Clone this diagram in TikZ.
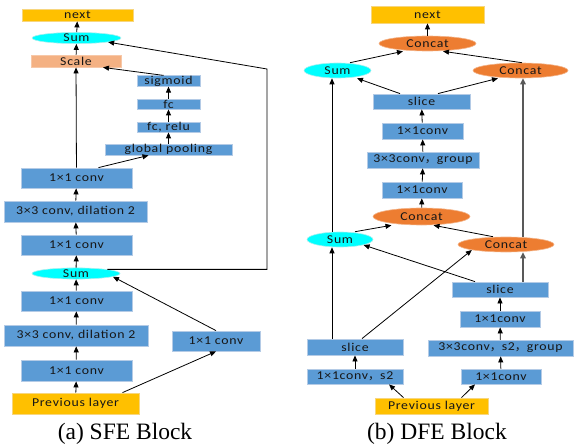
\documentclass[tikz,border=0pt]{standalone}
\usepackage{fontspec}
\setmainfont{Liberation Serif}
\newfontfamily\lab[FakeStretch=1.15,LetterSpace=6]{Carlito}
\newfontfamily\cjk{Noto Sans CJK SC}
\usetikzlibrary{shapes.geometric,arrows.meta}

\definecolor{boxblue}{HTML}{5B9BD5}
\definecolor{boxedge}{HTML}{B4CBE6}
\definecolor{nextfill}{HTML}{FFC000}
\definecolor{nextedge}{HTML}{F7D67E}
\definecolor{scalefill}{HTML}{F4B183}
\definecolor{sumfill}{HTML}{00FFFF}
\definecolor{sumedge}{HTML}{A8F0F0}
\definecolor{catfill}{HTML}{ED7D31}
\definecolor{catedge}{HTML}{F3B48A}
\definecolor{labtext}{HTML}{161616}
\newcommand{\fw}{{\cjk ，}}

\tikzset{
  lbl/.style={font=\lab\fontsize{12}{13}\selectfont, text=labtext, inner sep=0pt},
  bx/.style={lbl, rectangle, fill=boxblue, draw=boxedge, line width=0.8pt},
  nx/.style={lbl, rectangle, fill=nextfill, draw=nextedge, line width=0.8pt},
  sc/.style={lbl, rectangle, fill=scalefill, draw=scalefill!70!white, line width=0.8pt},
  sm/.style={lbl, ellipse, fill=sumfill, draw=sumedge, line width=0.6pt},
  ct/.style={lbl, ellipse, fill=catfill, draw=catedge, line width=0.6pt},
  ar/.style={line width=0.8pt, -{Triangle[length=6pt,width=5pt]}},
  arg/.style={line width=1.5pt, draw=black!65, -{Triangle[length=6pt,width=5.5pt]}},
  captext/.style={font=\fontsize{23.5}{26}\selectfont, anchor=base, inner sep=0pt}
}

\begin{document}
\begin{tikzpicture}[x=1pt, y=-1pt]
\useasboundingbox (0,0) rectangle (574,444);

% ---------------- SFE block ----------------
\node[nx, minimum width=111, minimum height=12] (nextA) at (77.5,15) {next};
\node[sm, minimum width=89, minimum height=10] (sumT) at (76.5,38) {Sum};
\node[sc, minimum width=90, minimum height=12] (scale) at (76,61) {Scale};
\node[bx, minimum width=63, minimum height=10] (sigm) at (168.5,81) {sigmoid};
\node[bx, minimum width=63, minimum height=10] (fc) at (168.5,104) {fc};
\node[bx, minimum width=63, minimum height=10] (fcr) at (168.5,127) {fc, relu};
\node[bx, minimum width=127, minimum height=11] (gpool) at (168.5,149.5) {global pooling};
\node[bx, minimum width=111, minimum height=20] (c1a) at (76.5,178) {1×1 conv};
\node[bx, minimum width=143, minimum height=21] (c3a) at (75.5,211.5) {3×3 conv, dilation 2};
\node[bx, minimum width=111, minimum height=20] (c1b) at (76.5,245) {1×1 conv};
\node[sm, minimum width=88, minimum height=9] (sumM) at (76,273.5) {Sum};
\node[bx, minimum width=111, minimum height=20] (c1c) at (76.5,301) {1×1 conv};
\node[bx, minimum width=144, minimum height=21] (c3b) at (76,335.5) {3×3 conv, dilation 2};
\node[bx, minimum width=111, minimum height=21] (c1d) at (76.5,370.5) {1×1 conv};
\node[nx, minimum width=127, minimum height=21] (prevA) at (75.5,403.5) {Previous layer};
\node[bx, minimum width=88, minimum height=20] (c1r) at (216,341) {1×1 conv};
\coordinate (fbT) at (267,69);

\draw[ar] (prevA) -- (c1d);
\draw[ar] (c1d) -- (c3b);
\draw[ar] (c3b) -- (c1c);
\draw[ar] (c1c) -- (sumM);
\draw[ar] (sumM) -- (c1b);
\draw[ar] (c1b) -- (c3a);
\draw[ar] (c3a) -- (c1a);
\draw[ar] (c1a) -- (scale);
\draw[ar] ([xshift=22pt]c1a.north) -- ([xshift=-20pt]gpool.south);
\draw[ar] (gpool) -- (fcr);
\draw[ar] (fcr) -- (fc);
\draw[ar] (fc) -- (sigm);
\draw[ar] ([xshift=-5pt]sigm.north) -- ([xshift=27pt]scale.south);
\draw[ar] (scale) -- (sumT);
\draw[ar] (sumT) -- (nextA);
\draw[ar] ([xshift=47pt]prevA.north) -- (c1r.south);
\draw[ar] (c1r.north) -- (sumM.-5);
\draw[ar] (sumM.north east) -- (sumM.north east -| fbT) -- (fbT) -- (sumT.south east);

\node[captext] (capA) at (125,439) {(a) SFE Block};

% ---------------- DFE block ----------------
\node[nx, minimum width=113, minimum height=17] (nextB) at (427.5,14.5) {next};
\node[ct, minimum width=97, minimum height=15] (catT) at (427.5,43.5) {Concat};
\node[sm, minimum width=67, minimum height=15] (sumU) at (337.5,70.5) {Sum};
\node[ct, minimum width=95, minimum height=15] (catR) at (520.5,70.5) {Concat};
\node[bx, minimum width=97, minimum height=15] (sliceT) at (421.5,101.5) {slice};
\node[bx, minimum width=81, minimum height=16] (c1e) at (422.5,131) {1×1conv};
\node[bx, minimum width=112, minimum height=16] (c3g) at (423,160) {3×3conv\fw group};
\node[bx, minimum width=80, minimum height=16] (c1f) at (422,190) {1×1conv};
\node[ct, minimum width=97, minimum height=17] (catM) at (421.5,216.5) {Concat};
\node[sm, minimum width=66, minimum height=15] (sumL) at (340,239.5) {Sum};
\node[ct, minimum width=96, minimum height=15] (catL) at (506,244.5) {Concat};
\node[bx, minimum width=96, minimum height=15] (sliceR) at (500,289.5) {slice};
\node[bx, minimum width=80, minimum height=16] (c1g) at (500,319) {1×1conv};
\node[bx, minimum width=145, minimum height=16] (c3s) at (500.5,348) {3×3conv\fw s2\fw group};
\node[bx, minimum width=80, minimum height=15] (c1h) at (501,376.5) {1×1conv};
\node[bx, minimum width=96, minimum height=16] (sliceL) at (355,347) {slice};
\node[bx, minimum width=96, minimum height=15] (c1s) at (355,376.5) {1×1conv\fw s2};
\node[nx, minimum width=113, minimum height=16] (prevB) at (431.5,406) {Previous layer};

\draw[ar] ([xshift=-28pt]prevB.north) -- ([xshift=34pt]c1s.south);
\draw[ar] ([xshift=30pt]prevB.north) -- ([xshift=-26pt]c1h.south);
\draw[ar] (c1s) -- (sliceL);
\draw[ar] ([xshift=-23pt]sliceL.north) -- ([xshift=-8pt]sumL.south);
\draw[ar] ([xshift=7pt]sliceL.north) -- (catL.south west);
\draw[ar] (c1h) -- (c3s);
\draw[ar] (c3s) -- (c1g);
\draw[ar] (c1g) -- (sliceR);
\draw[ar] ([xshift=-25pt]sliceR.north) -- (sumL.south east);
\draw[arg] ([xshift=23pt]sliceR.north) -- ([xshift=17pt]catL.south);
\draw[ar] ([xshift=-13pt]catL.north) -- ([xshift=12pt]catM.south);
\draw[ar] ([xshift=15pt]sumL.north) -- ([xshift=-30pt]catM.south);
\draw[ar] (catM) -- (c1f);
\draw[ar] (c1f) -- (c3g);
\draw[ar] (c3g) -- (c1e);
\draw[ar] (c1e) -- (sliceT);
\draw[ar] ([xshift=-8pt]sumL.north) -- ([xshift=-5.5pt]sumU.south);
\draw[arg] ([xshift=17pt]catL.north) -- ([xshift=2.5pt]catR.south);
\draw[ar] ([xshift=-21.5pt]sliceT.north) -- ([xshift=19.5pt]sumU.south);
\draw[ar] ([xshift=16.5pt]sliceT.north) -- ([xshift=-22.5pt]catR.south);
\draw[ar] ([xshift=12.5pt]sumU.north) -- ([xshift=-24.5pt]catT.south);
\draw[ar] ([xshift=1.5pt]catR.north) -- ([xshift=15.5pt]catT.south);
\draw[ar] (catT) -- (nextB);

\node[captext] (capB) at (437,439) {(b) DFE Block};
\end{tikzpicture}
\end{document}
